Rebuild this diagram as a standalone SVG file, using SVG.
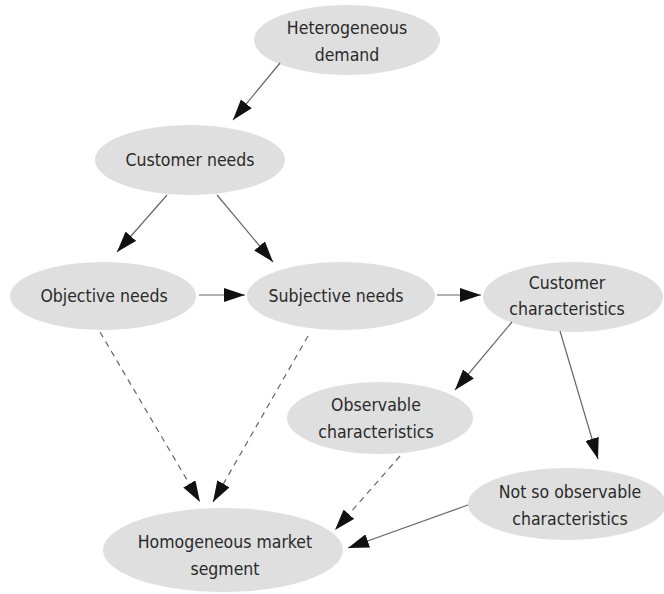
<svg xmlns="http://www.w3.org/2000/svg" width="664" height="594" viewBox="0 0 664 594">
<style>
.n ellipse{fill:#dfdfe0;stroke:none}
.n text{font-family:"DejaVu Sans Condensed","DejaVu Sans",sans-serif;font-stretch:condensed;font-size:17.5px;fill:#2a2a2a;text-anchor:middle}
.c line{stroke:#666;stroke-width:1.2;fill:none}
.c .d{stroke-dasharray:6,5}
</style>
<defs>
<marker id="ah" markerUnits="userSpaceOnUse" markerWidth="22" markerHeight="14" refX="21" refY="7" orient="auto">
<path d="M0,0 L21,7 L0,14 Z" fill="#111"/>
</marker>
</defs>
<rect width="664" height="594" fill="#fff"/>
<g id="hetero" class="n"><ellipse cx="347" cy="40" rx="93" ry="35"/><text x="347" y="34">Heterogeneous</text><text x="347" y="61">demand</text></g>
<g id="custneeds" class="n"><ellipse cx="190" cy="160" rx="95" ry="35"/><text x="190" y="166">Customer needs</text></g>
<g id="objective" class="n"><ellipse cx="103" cy="296" rx="93" ry="34"/><text x="104" y="302">Objective needs</text></g>
<g id="subjective" class="n"><ellipse cx="341" cy="296" rx="94" ry="34"/><text x="336" y="302">Subjective needs</text></g>
<g id="custchar" class="n"><ellipse cx="573" cy="297" rx="90" ry="35"/><text x="567" y="289">Customer</text><text x="567" y="315">characteristics</text></g>
<g id="observable" class="n"><ellipse cx="380" cy="418" rx="93" ry="36"/><text x="376" y="411">Observable</text><text x="376" y="438">characteristics</text></g>
<g id="notso" class="n"><ellipse cx="567" cy="504" rx="99" ry="36"/><text x="570" y="498">Not so observable</text><text x="570" y="525">characteristics</text></g>
<g id="homog" class="n"><ellipse cx="223" cy="550" rx="120" ry="42"/><text x="225" y="548">Homogeneous market</text><text x="225" y="575">segment</text></g>
<g id="connectors" class="c">
<line x1="280" y1="63" x2="233" y2="120" marker-end="url(#ah)"/>
<line x1="167" y1="195" x2="117" y2="252" marker-end="url(#ah)"/>
<line x1="217" y1="195" x2="273" y2="262" marker-end="url(#ah)"/>
<line x1="199" y1="295" x2="245" y2="295" marker-end="url(#ah)"/>
<line x1="437" y1="295" x2="481" y2="295" marker-end="url(#ah)"/>
<line x1="512" y1="322" x2="455" y2="390" marker-end="url(#ah)"/>
<line x1="560" y1="331" x2="598" y2="459" marker-end="url(#ah)"/>
<line class="d" x1="100" y1="332" x2="200" y2="502" marker-end="url(#ah)"/>
<line class="d" x1="308" y1="336" x2="213" y2="502" marker-end="url(#ah)"/>
<line class="d" x1="400" y1="456" x2="335" y2="530" marker-end="url(#ah)"/>
<line x1="468" y1="505" x2="348" y2="548" marker-end="url(#ah)"/>
</g>
</svg>
